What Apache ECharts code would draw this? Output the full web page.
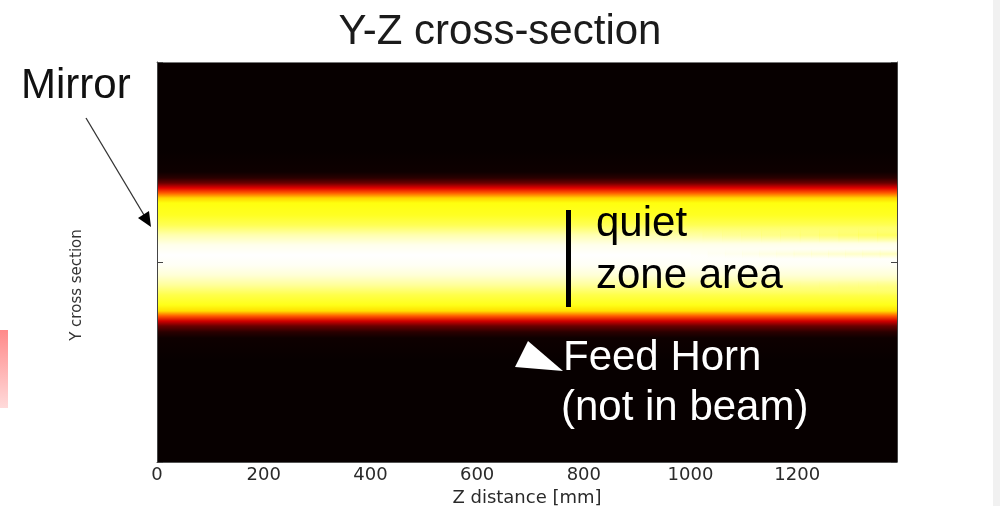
<!DOCTYPE html>
<html>
<head>
<meta charset="utf-8">
<script src="https://cdn.jsdelivr.net/npm/echarts@6/dist/echarts.min.js"></script>
<style>html,body{margin:0;padding:0;background:#fff;}#c{width:1000px;height:506px;}</style>
</head>
<body>
<div id="c"></div>
<script>
// ---- data ----
const zMax = 1387;                       // Z distance extent [mm]
const zTickStep = 200;                   // tick spacing of Z axis
const yExtent = 200;                     // Y cross section, symmetric extent (arbitrary units)
// vertical beam profile: Y position -> normalised intensity (hot colormap)
const profileY = [112, 90, 84, 79, 74, 69, 64, 59, 47, 37, 27, 17, 7, -3, -13, -23, -33, -43, -49, -54, -59, -64, -70, -76, -98];
const profileI = [0.01, 0.02, 0.06, 0.15, 0.32, 0.50, 0.68, 0.76, 0.78, 0.83, 0.92, 0.98, 1.00, 0.99, 0.96, 0.90, 0.82, 0.77, 0.70, 0.50, 0.30, 0.15, 0.06, 0.02, 0.01];
// faint fringes appearing toward the far end of the beam
const fringeZStart = [950, 1000, 950];
const fringeY      = [27, 8, -26];
const fringeHalf   = [8, 5, 8];
const fringeI      = [0.80, 0.90, 0.86];

function hot(v, a) {
  const c = x => Math.max(0, Math.min(1, x));
  const r = Math.round(255 * c(v / 0.365));
  const g = Math.round(255 * c((v - 0.365) / 0.381));
  const b = Math.round(255 * c((v - 0.746) / 0.254));
  return a === undefined ? `rgb(${r},${g},${b})` : `rgba(${r},${g},${b},${a})`;
}

const chart = echarts.init(document.getElementById('c'), null, {renderer: 'canvas'});

const beamStops = [{offset: 0, color: hot(profileI[0])}];
profileY.forEach((y, i) => beamStops.push({offset: (yExtent - y) / (2 * yExtent), color: hot(profileI[i])}));
beamStops.push({offset: 1, color: hot(profileI[profileI.length - 1])});

const fringeData = fringeY.map((y, i) => [fringeZStart[i], y, fringeHalf[i], fringeI[i]]);

const axisFont = 'DejaVu Sans';
const txt = (text, x, y, color) => ({
  type: 'text', z: 100, x: x, y: y,
  style: {text: text, fill: color, font: '42px "Liberation Sans", Arial, sans-serif', textVerticalAlign: 'top'}
});

chart.setOption({
  animation: false,
  backgroundColor: '#ffffff',
  title: {
    text: 'Y-Z cross-section', left: 'center', top: 6,
    textStyle: {fontFamily: 'Liberation Sans', fontSize: 42, fontWeight: 'normal', color: '#1b1b1b'}
  },
  grid: {left: 157, right: 103, top: 62, bottom: 44, outerBoundsMode: 'none', containLabel: false},
  xAxis: [{
    type: 'value', min: 0, max: zMax, interval: zTickStep, position: 'bottom', z: 5,
    name: 'Z distance [mm]', nameLocation: 'middle', nameGap: 24,
    nameTextStyle: {fontFamily: axisFont, fontSize: 18, color: '#2a2a2a'},
    axisLine: {show: true, onZero: false, lineStyle: {color: '#555', width: 1}},
    axisTick: {show: false},
    axisLabel: {fontFamily: axisFont, fontSize: 18, color: '#2a2a2a', margin: 4, showMaxLabel: false,
      formatter: v => String(v)},
    splitLine: {show: false}
  }, {
    type: 'value', min: 0, max: zMax, position: 'top', z: 5,
    axisLine: {show: true, onZero: false, lineStyle: {color: '#777', width: 1}},
    axisTick: {show: false}, axisLabel: {show: false}, splitLine: {show: false}
  }],
  yAxis: [{
    type: 'value', min: -yExtent, max: yExtent, interval: yExtent, position: 'left', z: 5,
    name: 'Y cross section', nameLocation: 'middle', nameGap: 72,
    nameTextStyle: {fontFamily: axisFont, fontSize: 15, color: '#333', padding: [0, 46, 0, 0]},
    axisLine: {show: true, onZero: false, lineStyle: {color: '#444', width: 1}},
    axisTick: {show: true, inside: true, length: 6, lineStyle: {color: '#444'}},
    axisLabel: {show: false}, splitLine: {show: false}
  }, {
    type: 'value', min: -yExtent, max: yExtent, interval: yExtent, position: 'right', z: 5,
    axisLine: {show: true, onZero: false, lineStyle: {color: '#444', width: 1}},
    axisTick: {show: true, inside: true, length: 6, lineStyle: {color: '#444'}},
    axisLabel: {show: false}, splitLine: {show: false}
  }],
  series: [{
    type: 'custom', name: 'beam', xAxisIndex: 0, yAxisIndex: 0, z: 2, silent: true,
    data: [[0, zMax]],
    renderItem: function (params, api) {
      const p0 = api.coord([api.value(0), yExtent]);
      const p1 = api.coord([api.value(1), -yExtent]);
      return {
        type: 'rect',
        shape: {x: p0[0], y: p0[1], width: p1[0] - p0[0], height: p1[1] - p0[1]},
        style: {fill: new echarts.graphic.LinearGradient(0, 0, 0, 1, beamStops)}
      };
    }
  }, {
    type: 'custom', name: 'fringes', xAxisIndex: 0, yAxisIndex: 0, z: 3, silent: true,
    data: fringeData,
    renderItem: function (params, api) {
      const z0 = api.value(0), y = api.value(1), h = api.value(2), v = api.value(3);
      const steps = 12, children = [];
      for (let k = 0; k < steps; k++) {
        const za = z0 + (zMax - z0) * k / steps, zb = z0 + (zMax - z0) * (k + 1) / steps;
        const p0 = api.coord([za, y + h]);
        const p1 = api.coord([zb, y - h]);
        const a = 0.65 * (k + 1) / steps;
        children.push({
          type: 'rect',
          shape: {x: p0[0], y: p0[1], width: p1[0] - p0[0] + 0.5, height: p1[1] - p0[1]},
          style: {fill: new echarts.graphic.LinearGradient(0, 0, 0, 1, [
            {offset: 0, color: hot(v, 0)}, {offset: 0.5, color: hot(v, a)}, {offset: 1, color: hot(v, 0)}
          ])}
        });
      }
      return {type: 'group', children: children};
    }
  }],
  graphic: [
    {type: 'rect', z: 100, shape: {x: 0, y: 330, width: 8, height: 78},
      style: {fill: new echarts.graphic.LinearGradient(0, 0, 0, 1, [{offset: 0, color: '#ff8a8a'}, {offset: 1, color: '#ffdada'}])}},
    {type: 'rect', z: 100, shape: {x: 993, y: 0, width: 7, height: 506}, style: {fill: '#f1f1f1'}},
    txt('Mirror', 21, 65, '#111'),
    {type: 'line', z: 100, shape: {x1: 86, y1: 118, x2: 144, y2: 215}, style: {stroke: '#333', lineWidth: 1.3}},
    {type: 'polygon', z: 100, shape: {points: [[151, 227], [149, 211], [138, 218]]}, style: {fill: '#000'}},
    {type: 'rect', z: 100, shape: {x: 566, y: 210, width: 5, height: 97}, style: {fill: '#000'}},
    txt('quiet', 596, 203, '#000'),
    txt('zone area', 596, 255, '#000'),
    {type: 'polygon', z: 100, shape: {points: [[528, 341], [515, 367], [563, 371]]}, style: {fill: '#fff'}},
    txt('Feed Horn', 563, 337, '#fff'),
    txt('(not in beam)', 561, 387, '#fff')
  ]
});
</script>
</body>
</html>
